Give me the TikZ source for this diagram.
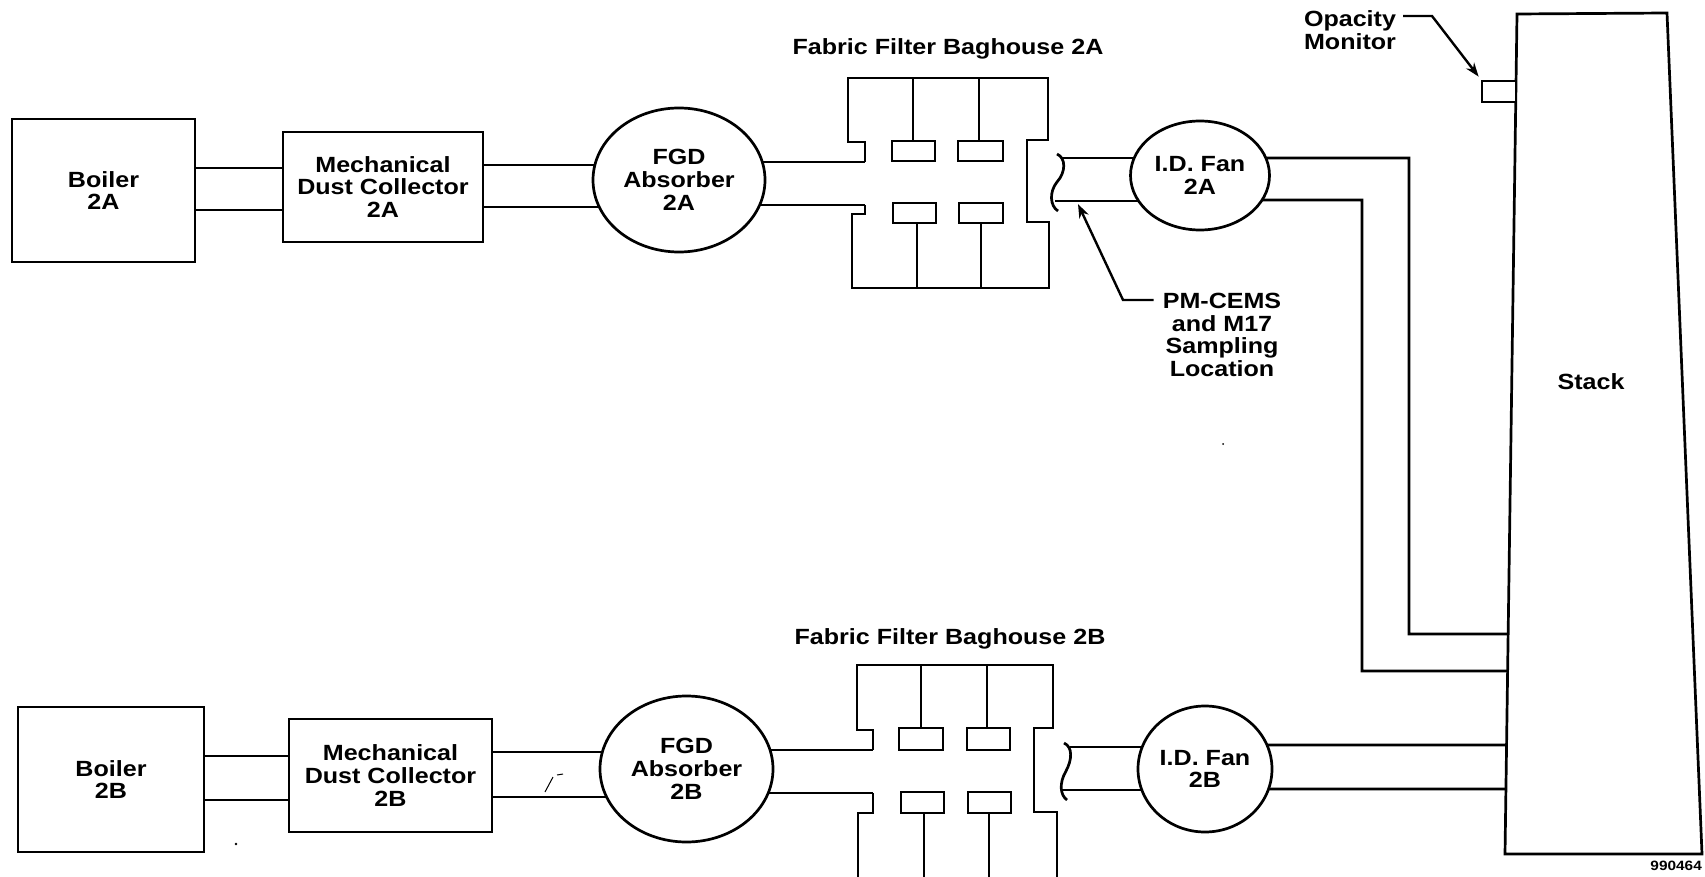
\documentclass[tikz,border=0pt]{standalone}
\usepackage{fontspec}
\newfontfamily\lblfont[FakeStretch=1.14]{Liberation Sans}
\newcommand\dtxt{\lblfont\bfseries\fontsize{22}{22.7}\selectfont}
\newcommand\stxt{\lblfont\bfseries\fontsize{13.5}{14}\selectfont}
\usetikzlibrary{shapes.geometric,arrows.meta,calc}
\pgfdeclarelayer{paper}
\pgfdeclarelayer{bg}
\pgfsetlayers{paper,bg,main}
\begin{document}
\begin{tikzpicture}[x=1pt,y=-1pt,
  ln/.style={line width=2.7pt},
  box/.style={draw,ln,fill=white,rectangle,inner sep=0pt,align=center,font=\dtxt},
  oval/.style={draw,ln,fill=white,ellipse,inner sep=0pt,align=center,font=\dtxt},
  lab/.style={inner sep=0pt,align=center,font=\dtxt},
  pipe/.style={ln},
  lead/.style={line width=2.4pt,-{Stealth[length=14pt,width=10pt]}},
  speck/.style={line width=1pt}]
\begin{pgfonlayer}{paper}
\fill[white] (0,0) rectangle (1705,877);
\end{pgfonlayer}
\useasboundingbox (0,0) rectangle (1705,877);

% ---------------- top train ----------------
\node[box,minimum width=183pt,minimum height=143pt] (b2a) at (103.5,190.5) {Boiler\\2A};
\node[box,minimum width=200pt,minimum height=110pt] (m2a) at (383,187) {Mechanical\\Dust Collector\\2A};
\node[oval,minimum width=172pt,minimum height=144pt] (f2a) at (679,180) {FGD\\Absorber\\2A};
\node[oval,minimum width=139pt,minimum height=109pt] (i2a) at (1200,175.5) {I.D. Fan\\2A};

% ---------------- bottom train ----------------
\node[box,minimum width=186pt,minimum height=145pt] (b2b) at (111,779.5) {Boiler\\2B};
\node[box,minimum width=203pt,minimum height=113pt] (m2b) at (390.5,775.5) {Mechanical\\Dust Collector\\2B};
\node[oval,minimum width=173pt,minimum height=146pt] (f2b) at (686.5,769) {FGD\\Absorber\\2B};
\node[oval,minimum width=134pt,minimum height=126pt] (i2b) at (1205,769) {I.D. Fan\\2B};

% ---------------- stack ----------------
\coordinate (stTL) at (1517,14);
\coordinate (stTR) at (1667,13);
\coordinate (stBR) at (1702,854);
\coordinate (stBL) at (1505,854);
\draw[ln] (stTL) -- (stTR) -- (stBR) -- (stBL) -- cycle;
\node[lab] (stk) at (1591,382) {Stack};
\coordinate (s634) at ($(stTL)!0.7381!(stBL)$);
\coordinate (s671) at ($(stTL)!0.7821!(stBL)$);
\coordinate (s745) at ($(stTL)!0.8702!(stBL)$);
\coordinate (s789) at ($(stTL)!0.9226!(stBL)$);
\node[draw,ln,fill=white,rectangle,inner sep=0pt,minimum width=34pt,minimum height=21pt] (opm) at (1499,91.5) {};
\node[lab] (oplab) at (1350,30) {Opacity\\Monitor};
\draw[lead] ([xshift=7pt]oplab.east |- 0,16) -- (1432,16) -- ([shift={(-2,-3)}]opm.north west);
\node[anchor=base east,inner sep=0pt,font=\stxt] (code) at (1702,870) {990464};

% ---------------- baghouse 2A ----------------
\node[lab] (bh2alab) at (948,49) {Fabric Filter Baghouse 2A};
\coordinate (ha1) at (865,162);
\coordinate (ha2) at (865,205);
\draw[ln] (ha1) -- (865,142) -- (848,142) -- (848,78) -- (1048,78) -- (1048,140) -- (1027,140)
  -- (1027,222) -- (1049,222) -- (1049,288) -- (852,288) -- (852,214) -- (865,214) -- (ha2);
\draw[ln] (913,78) -- (913,141) (979,78) -- (979,141);
\draw[ln] (892,141) rectangle (935,161) (958,141) rectangle (1003,161);
\draw[ln] (893,203) rectangle (936,223) (959,203) rectangle (1003,223);
\draw[ln] (917,223) -- (917,288) (981,223) -- (981,288);
\draw[ln] (1057,154) .. controls (1066,158) and (1066,172) .. (1057,182)
  .. controls (1049,192) and (1050,206) .. (1058,211);

% ---------------- baghouse 2B ----------------
\node[lab] (bh2blab) at (950,639) {Fabric Filter Baghouse 2B};
\coordinate (hb1) at (873,750);
\coordinate (hb2) at (873,793);
\draw[ln] (hb1) -- (873,730) -- (857,730) -- (857,665) -- (1053,665) -- (1053,728) -- (1034,728)
  -- (1034,812) -- (1057,812) -- (1057,880);
\draw[ln] (hb2) -- (873,813) -- (858,813) -- (858,880);
\draw[ln] (921,665) -- (921,728) (987,665) -- (987,728);
\draw[ln] (899,728) rectangle (943,750) (967,728) rectangle (1010,750);
\draw[ln] (901,792) rectangle (944,813) (968,792) rectangle (1011,813);
\draw[ln] (924,813) -- (924,880) (989,813) -- (989,880);
\draw[ln] (1064,743) .. controls (1073,747) and (1072,760) .. (1066,771)
  .. controls (1059,783) and (1060,795) .. (1067,800);

% ---------------- PM-CEMS label ----------------
\node[lab,anchor=north] (pmlab) at (1222,293) {PM-CEMS\\and M17\\Sampling\\Location};
\coordinate (pmpt) at (1078,204);
\draw[lead] ([xshift=-9pt]pmlab.west |- 0,300) -- (1123,300) -- (pmpt);

% ---------------- pipes ----------------
\begin{pgfonlayer}{bg}
\draw[pipe] (b2a.east |- 0,168) -- (m2a.west |- 0,168);
\draw[pipe] (b2a.east |- 0,210) -- (m2a.west |- 0,210);
\draw[pipe] (m2a.east |- 0,165) -- (f2a.center |- 0,165);
\draw[pipe] (m2a.east |- 0,207) -- (f2a.center |- 0,207);
\draw[pipe] (f2a.center |- 0,162) -- (ha1);
\draw[pipe] (f2a.center |- 0,205) -- (ha2);
\draw[pipe] (1062,158) -- (i2a.center |- 0,158);
\draw[pipe] (1055,201) -- (i2a.center |- 0,201);
\draw[pipe] (i2a.center |- 0,158) -- (1409,158) -- (1409,634) -- (s634);
\draw[pipe] (i2a.center |- 0,200) -- (1362,200) -- (1362,671) -- (s671);

\draw[pipe] (b2b.east |- 0,756) -- (m2b.west |- 0,756);
\draw[pipe] (b2b.east |- 0,800) -- (m2b.west |- 0,800);
\draw[pipe] (m2b.east |- 0,752) -- (f2b.center |- 0,752);
\draw[pipe] (m2b.east |- 0,797) -- (f2b.center |- 0,797);
\draw[pipe] (f2b.center |- 0,750) -- (hb1);
\draw[pipe] (f2b.center |- 0,793) -- (hb2);
\draw[pipe] (1070,747) -- (i2b.center |- 0,747);
\draw[pipe] (1063,790) -- (i2b.center |- 0,790);
\draw[pipe] (i2b.center |- 0,745) -- (s745);
\draw[pipe] (i2b.center |- 0,789) -- (s789);
\end{pgfonlayer}

% ---------------- scan specks ----------------
\draw[speck] (545,792) -- (553,777);
\draw[speck] (557,775) -- (563,774);
\fill (236,844) circle (1.4pt);
\fill (1223,444) circle (1pt);
\end{tikzpicture}
\end{document}
